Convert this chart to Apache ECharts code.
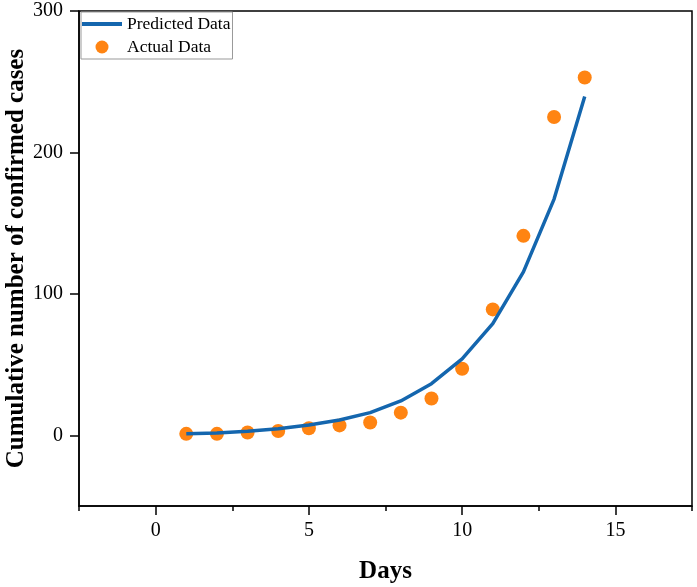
<!DOCTYPE html>
<html>
<head>
<meta charset="utf-8">
<script src="https://cdn.jsdelivr.net/npm/echarts@6/dist/echarts.min.js"></script>
<style>
  html, body { margin: 0; padding: 0; background: #fff; }
  #chart { width: 697px; height: 587px; }
</style>
</head>
<body>
<div id="chart"></div>
<script>
// days
const days = [1, 2, 3, 4, 5, 6, 7, 8, 9, 10, 11, 12, 13, 14];
// model curve
const predicted = [1.1, 1.6, 2.8, 4.7, 7.3, 10.8, 16, 24.3, 36.5, 54, 79, 115.5, 167, 239.5];
// observed cases
const actual = [1, 1, 2, 3, 5, 7, 9, 16, 26, 47, 89, 141, 225, 253];
const xMajorTicks = [0, 5, 10, 15];
const yTicks = [0, 100, 200, 300];

const serif = "'Liberation Serif', 'Times New Roman', serif";

let myChart = echarts.init(document.getElementById("chart"));

let option = {
    animation: false,
    grid: {
        left: 79, right: 5, top: 11, bottom: 81,
        outerBoundsMode: "none",
        containLabel: false,
        show: true,
        borderColor: "#000",
        borderWidth: 1.5
    },
    legend: {
        orient: "vertical",
        left: 81,
        top: 12,
        itemWidth: 40,
        itemHeight: 13,
        itemGap: 5,
        padding: [3, 2, 3, 1],
        borderColor: "#999",
        borderWidth: 1,
        backgroundColor: "#fff",
        textStyle: { fontFamily: serif, fontSize: 17.5, color: "#000" },
        data: [
            { name: "Predicted Data", icon: "path://M0,0 L40,0 L40,4 L0,4 Z" },
            { name: "Actual Data", icon: "circle" }
        ]
    },
    xAxis: [{
        type: "value",
        min: -2.5,
        max: 17.5,
        interval: 2.5,
        splitLine: { show: false },
        axisLine: { onZero: false, lineStyle: { color: "#000", width: 1.5 } },
        axisTick: { length: 5, lineStyle: { color: "#000", width: 1.5 } },
        axisLabel: { show: false },
        name: "Days",
        nameLocation: "middle",
        nameGap: 53,
        nameMoveOverlap: false,
        nameTextStyle: { fontFamily: serif, fontSize: 25, fontWeight: "bold", color: "#000" }
    }, {
        type: "value",
        min: -2.5,
        max: 17.5,
        position: "bottom",
        splitLine: { show: false },
        axisLine: { show: false, onZero: false },
        axisTick: { customValues: xMajorTicks, length: 9, lineStyle: { color: "#000", width: 1.5 } },
        axisLabel: {
            customValues: xMajorTicks,
            margin: 15,
            fontFamily: serif, fontSize: 20, color: "#000"
        }
    }],
    yAxis: {
        type: "value",
        min: -50,
        max: 300,
        splitLine: { show: false },
        axisLine: { onZero: false, lineStyle: { color: "#000", width: 1.5 } },
        axisTick: { customValues: yTicks, length: 9, lineStyle: { color: "#000", width: 1.5 } },
        axisLabel: {
            customValues: yTicks,
            margin: 16,
            fontFamily: serif, fontSize: 20, color: "#000"
        },
        name: "Cumulative number of confirmed cases",
        nameLocation: "middle",
        nameGap: 50,
        nameMoveOverlap: false,
        nameTextStyle: { fontFamily: serif, fontSize: 25, fontWeight: "bold", color: "#000" }
    },
    series: [{
        name: "Predicted Data",
        type: "line",
        xAxisIndex: 0,
        data: days.map((d, i) => [d, predicted[i]]),
        symbol: "none",
        lineStyle: { color: "#1466ae", width: 3.5 },
        itemStyle: { color: "#1466ae" }
    }, {
        name: "Actual Data",
        type: "scatter",
        xAxisIndex: 0,
        data: days.map((d, i) => [d, actual[i]]),
        symbolSize: 14,
        itemStyle: { color: "#ff8412", opacity: 1 }
    }]
};
myChart.setOption(option);
window.addEventListener("resize", function () {
    myChart.resize();
});
</script>
</body>
</html>
